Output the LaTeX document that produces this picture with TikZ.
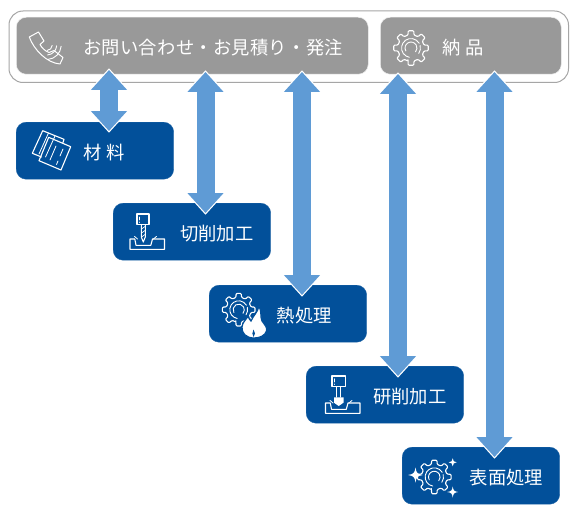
\documentclass[tikz,border=0pt]{standalone}
\usepackage{fontspec}
\usetikzlibrary{arrows.meta}
\setmainfont{Noto Sans CJK JP}
\newfontfamily\spaced[LetterSpace=1.5]{Noto Sans CJK JP}
\definecolor{boxblue}{HTML}{02509A}
\definecolor{boxgrey}{HTML}{999999}
\definecolor{arrowblue}{HTML}{5F9BD5}
\definecolor{frameline}{HTML}{A6A6A6}
\tikzset{
  x=1pt,y=-1pt,
  stepbox/.style={rectangle,rounded corners=10pt,minimum height=57pt,inner xsep=0pt,inner ysep=0pt,align=left,text=white,font=\fontsize{18.3}{20}\selectfont,anchor=north west},
  bluebox/.style={stepbox,fill=boxblue,draw=boxblue!88!white,line width=.4pt,text width=157.5pt},
  greybox/.style={stepbox,fill=boxgrey,draw=white!85!boxgrey,line width=.5pt},
  framebox/.style={rectangle,rounded corners=14pt,draw=frameline,line width=1pt,fill=white,anchor=north west,inner sep=0pt},
  halo/.style={draw=white,line width=20.4pt,{Triangle[width=40.25pt,length=23pt,color=white]}-{Triangle[width=40.25pt,length=23pt,color=white]}},
  link/.style={draw=arrowblue,line width=18pt,{Triangle[width=35pt,length=20pt,color=arrowblue]}-{Triangle[width=35pt,length=20pt,color=arrowblue]}},
  icon/.style={draw=white,line width=1.1pt,line join=round,line cap=round}
}
\newcommand\lbl[2]{\hspace*{#1}\raisebox{-1.5pt}[\height][\depth]{#2}}
% \conn{from node}{to node}{x coordinate name}{extension at start}{extension at end}
\newcommand\conn[5]{%
  \draw[halo,shorten <=-#4pt-1.8pt,shorten >=-#5pt-1.8pt] (#1.south -| #3) -- (#2.north -| #3);
  \draw[link,shorten <=-#4pt,shorten >=-#5pt] (#1.south -| #3) -- (#2.north -| #3);
}
\newcommand\gearicon[3]{% x,y,R
  \begin{scope}[shift={(#1,#2)}]
    \draw[icon,rounded corners=1pt] (90+13:#3*.76)
      \foreach \a in {90,45,0,-45,-90,-135,-180,-225}{
        -- (\a+13:#3*.76) -- (\a+9:#3) -- (\a-9:#3) -- (\a-13:#3*.76)
      } -- cycle;
    \draw[icon,line width=.9pt] (100:#3*.54) arc[start angle=100,end angle=330,radius=#3*.54];
    \draw[icon,line width=.9pt] (345:#3*.54) arc[start angle=345,end angle=395,radius=#3*.54];
    \draw[icon,line width=.9pt] (150:#3*.34) arc[start angle=150,end angle=400,radius=#3*.34];
  \end{scope}
}
\newcommand\sparkle[3]{% x,y,r
  \fill[white,shift={(#1,#2)}] (#3,0) .. controls (#3*.25,#3*.12) and (#3*.12,#3*.25) .. (0,#3)
    .. controls (-#3*.12,#3*.25) and (-#3*.25,#3*.12) .. (-#3,0)
    .. controls (-#3*.25,-#3*.12) and (-#3*.12,-#3*.25) .. (0,-#3)
    .. controls (#3*.12,-#3*.25) and (#3*.25,-#3*.12) .. (#3,0) -- cycle;
}
\newcommand\workpiece[2]{% x,y of top-left of the block
  \begin{scope}[shift={(#1,#2)}]
    \draw[icon] (0,0) -- (0,10.3) -- (34.5,10.3) -- (34.5,0) -- (22.5,0) -- (20.8,6.3) -- (6,6.3) -- (4.8,0) -- cycle;
    \draw[icon,line width=.8pt] (4.5,-2.6) -- (7.5,0);
    \draw[icon,line width=.8pt] (23.5,0) -- (26.5,-2.6);
  \end{scope}
}
\begin{document}
\begin{tikzpicture}
\useasboundingbox (0,0) rectangle (577,516);
\fill[white] (0,0) rectangle (577,516);
\node[framebox,minimum width=559.5pt,minimum height=71.5pt] (frame) at (8.5,10.5) {};
\node[greybox,minimum width=352pt,text width=352pt] (ask) at (16,17) {\lbl{67pt}{\spaced お問い合わせ・お見積り・発注}};
\node[greybox,minimum width=181pt,text width=181pt] (ship) at (380,17) {\lbl{62pt}{納\hspace{5pt}品}};
\node[bluebox] (mat) at (16,122) {\lbl{67.5pt}{材\hspace{5pt}料}};
\node[bluebox] (cut) at (113,203) {\lbl{67pt}{切削加工}};
\node[bluebox] (heat) at (209,285) {\lbl{67.5pt}{熱処理}};
\node[bluebox] (grind) at (306,366) {\lbl{67pt}{研削加工}};
\node[bluebox] (surf) at (402,447) {\lbl{67.5pt}{表面処理}};
\coordinate (c1) at (109,0);
\coordinate (c2) at (205.5,0);
\coordinate (c3) at (302,0);
\coordinate (c4) at (398,0);
\coordinate (c5) at (494.5,0);
\conn{ask}{mat}{c1}{4.5}{9}
\conn{ask}{cut}{c2}{2.5}{10}
\conn{ask}{heat}{c3}{2.5}{10}
\conn{ship}{grind}{c4}{.5}{10}
\conn{ship}{surf}{c5}{2.5}{10}
% phone
\draw[icon,line width=1pt] (29.3,37) -- (38.5,32) -- (44,41) -- (40,44.5) .. controls (42,48) and (45,51) .. (49,52.5) -- (54,50.5) -- (63,57.5) -- (60,64) .. controls (47,63) and (34,50) .. (29.3,37) -- cycle;
\foreach \r in {5.5,10,14.5}{
  \draw[icon,line width=.9pt] (46.7,45)++(85:\r) arc[start angle=85,end angle=5,radius=\r];
}
% papers
\draw[icon] (62.8,143) -- (64,139.3) -- (42.7,130.7) -- (32.3,153.3) -- (41.5,157);
\draw[icon] (48.7,137.3) -- (70.7,146.7) -- (61,170) -- (39,160.7) -- cycle;
\draw[icon,line width=.8pt] (48.5,133) -- (39,154) (55,136) -- (45.5,157);
\draw[icon,line width=.8pt] (56,146) -- (50,160) (63,149) -- (60,156) (58,161) -- (56.5,164.5);
% milling
\draw[icon] (137,214) rectangle (149,224.5);
\draw[icon,line width=.8pt] (139.8,217) -- (139.8,220) (139.8,222) -- (139.8,222.4);
\draw[icon] (141.3,224.5) -- (141.3,237) -- (143.3,242) -- (145.3,237) -- (145.3,224.5);
\draw[icon,line width=.7pt] (141.5,229) -- (145,226.5) (141.5,233) -- (145,230.5) (141.5,237) -- (145,234.5);
\workpiece{130}{239}
% heat
\gearicon{238.7}{309.7}{16.5}
\fill[white,draw=boxblue,line width=1.2pt] (254,338) .. controls (246,338) and (241.5,333) .. (242,327) .. controls (242.5,322) and (246,320) .. (248,316.5) .. controls (249,319) and (250,320) .. (251,321) .. controls (253,316) and (258,312) .. (259,306) .. controls (262,312) and (260,317) .. (262,321) .. controls (265,325) and (267.5,328) .. (266.5,331) .. controls (265,335.5) and (260,338) .. (254,338) -- cycle;
\fill[boxblue] (253.5,337) .. controls (252,335) and (252,332) .. (253.5,329.5) .. controls (255,332) and (256,335) .. (253.5,337) -- cycle;
% grinding
\draw[icon] (332,376) rectangle (345.5,386.7);
\draw[icon,line width=.8pt] (334.8,378.8) -- (334.8,382) (334.8,384) -- (334.8,384.4);
\draw[icon] (336.3,386.7) -- (336.3,397) (340.7,386.7) -- (340.7,397);
\fill[white] (334,397.3) -- (343.5,397.3) -- (343.5,402.7) -- (338.7,406) -- (334,402.7) -- cycle;
\workpiece{325.5}{403}
% surface
\gearicon{434.3}{477}{17}
\sparkle{415.5}{475}{7.5}
\sparkle{452.7}{462.3}{4}
\sparkle{452.7}{492}{5.5}
% delivery gear
\gearicon{411}{48}{17.5}
\end{tikzpicture}
\end{document}
